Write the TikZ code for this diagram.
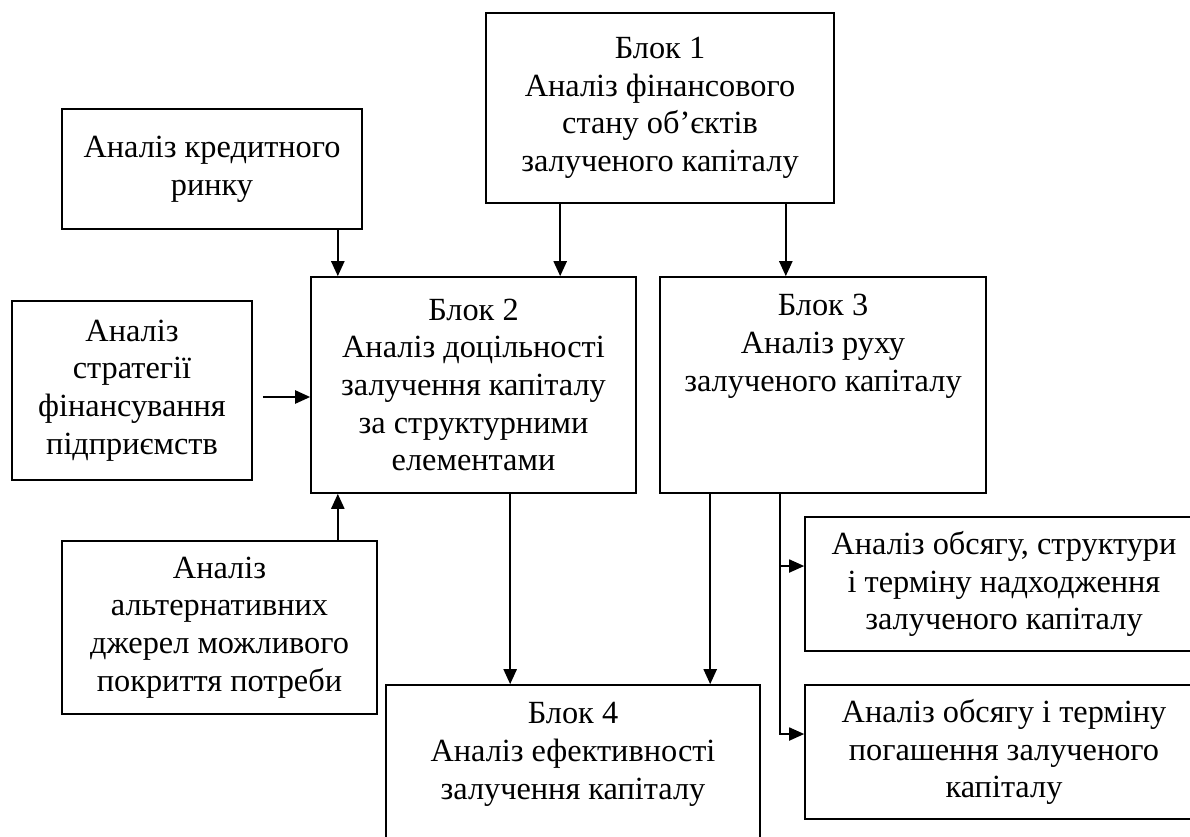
\documentclass[tikz,border=0pt]{standalone}
\usepackage{fontspec}
\setmainfont{Liberation Serif}
\usetikzlibrary{arrows.meta}
\def\blokfont{\fontsize{18.4}{21.4}\selectfont}
\tikzset{
	blok/.style={draw, line width=0.95pt, align=center, inner sep=0pt, font=\blokfont},
	blokhead/.style={align=center, inner sep=0pt, anchor=north, yshift=-0.36cm, font=\blokfont},
	arr/.style={line width=1.3pt, -{Triangle[length=0.3cm, width=0.26cm]}}
}

\begin{document}
\begin{tikzpicture}[x=0.02cm, y=-0.02cm]
	\useasboundingbox (0,0) rectangle (1190,836);
	\clip (0,0) rectangle (1190,836);

	\node[blok, minimum width=6.96cm, minimum height=3.8cm] (blok1) at (660,108) {Блок 1\\Аналіз фінансового\\стану об’єктів\\залученого капіталу};
	\node[blok, minimum width=6cm, minimum height=2.4cm] (kredit) at (212,169) {Аналіз кредитного\\ринку};
	\node[blok, minimum width=4.8cm, minimum height=3.58cm] (strat) at (132,390.5) {Аналіз\\стратегії\\фінансування\\підприємств};
	\node[blok, minimum width=6.5cm, minimum height=4.32cm] (blok2) at (473.5,385) {Блок 2\\Аналіз доцільності\\залучення капіталу\\за структурними\\елементами};
	\node[blok, minimum width=6.52cm, minimum height=4.32cm,
		label={[blokhead]north:{Блок 3\\Аналіз руху\\залученого капіталу}}] (blok3) at (823,385) {};
	\node[blok, minimum width=6.3cm, minimum height=3.46cm] (alter) at (219.5,627.5) {Аналіз\\альтернативних\\джерел можливого\\покриття потреби};
	\node[blok, minimum width=7.48cm, minimum height=4cm,
		label={[blokhead]north:{Блок 4\\Аналіз ефективності\\залучення капіталу}}] (blok4) at (573,785) {};
	\node[blok, minimum width=7.96cm, minimum height=2.68cm] (nadkhod) at (1004,584) {Аналіз обсягу, структури\\і терміну надходження\\залученого капіталу};
	\node[blok, minimum width=7.96cm, minimum height=2.68cm] (pohash) at (1004,752) {Аналіз обсягу і терміну\\погашення залученого\\капіталу};

	\draw[arr] ([xshift=-0.5cm]kredit.south east) -- ([xshift=-0.5cm]kredit.south east |- blok2.north);
	\draw[arr] ([xshift=1.5cm]blok1.south west) -- ([xshift=1.5cm]blok1.south west |- blok2.north);
	\draw[arr] ([xshift=-0.98cm]blok1.south east) -- ([xshift=-0.98cm]blok1.south east |- blok3.north);
	\draw[arr] ([shift={(0.2cm,-0.13cm)}]strat.east) -- ([yshift=-0.13cm]strat.east -| blok2.west);
	\draw[arr] ([xshift=-0.8cm]alter.north east) -- ([xshift=-0.8cm]alter.north east |- blok2.south);
	\draw[arr] ([xshift=4cm]blok2.south west) -- ([xshift=4cm]blok2.south west |- blok4.north);
	\draw[arr] ([xshift=1.02cm]blok3.south west) -- ([xshift=1.02cm]blok3.south west |- blok4.north);

	\coordinate (razv) at ([xshift=2.42cm]blok3.south west);
	\draw[arr, line width=1pt] (razv) |- ([yshift=0.36cm]pohash.west);
	\draw[arr, line width=1pt] ([yshift=0.36cm]nadkhod.west -| razv) -- ([yshift=0.36cm]nadkhod.west);
\end{tikzpicture}
\end{document}
